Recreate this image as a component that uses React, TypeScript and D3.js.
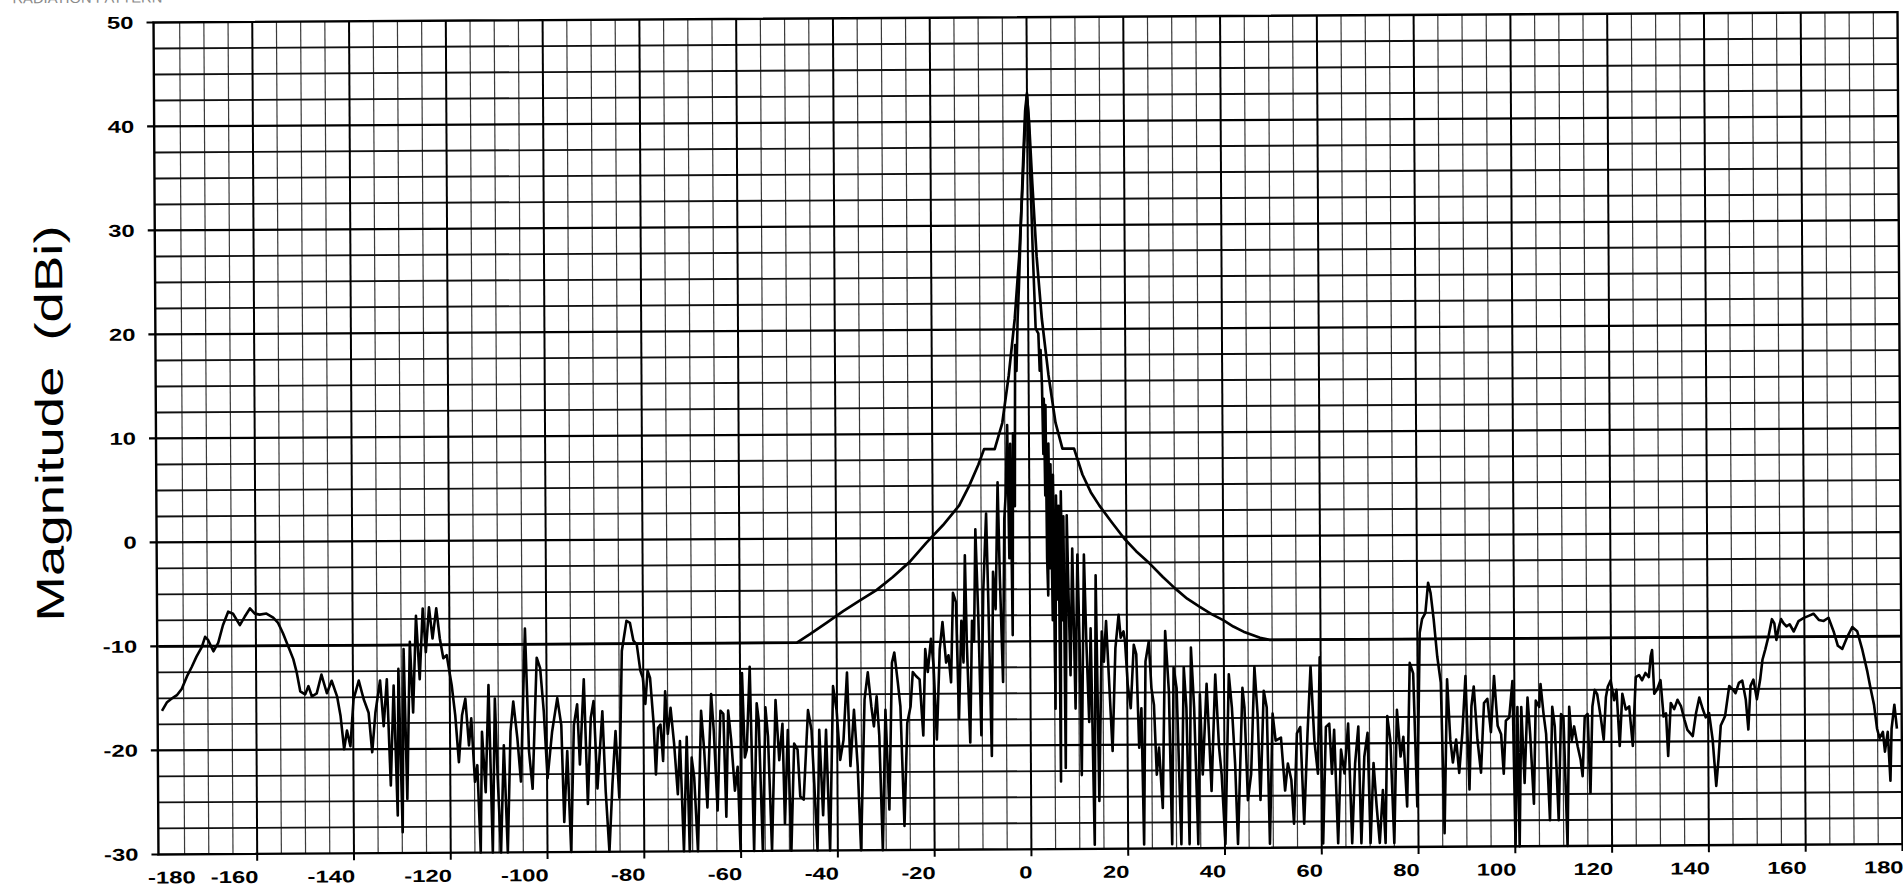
import React from 'react';
import * as d3 from 'd3';

// ---- tick labels ----
const xTickLabels: number[] = [-180, -160, -140, -120, -100, -80, -60, -40, -20, 0, 20, 40, 60, 80, 100, 120, 140, 160, 180];
const yTickLabels: number[] = [50, 40, 30, 20, 10, 0, -10, -20, -30];

// ---- measured pattern [angle deg, magnitude dBi] ----
const patternFarLeft: [number, number][] = [
  [-179.5,-16.2],[-178.5,-15.4],[-177.4,-15.0],[-176.4,-14.7],[-175.4,-14.1],[-174.3,-12.9],[-173.3,-12.0],[-172.3,-11.0],[-171.2,-10.1],[-170.5,-9.1],[-169.9,-9.4],[-168.8,-10.5],[-167.8,-9.7],[-166.8,-8.0],[-165.7,-6.7],[-164.7,-6.9],[-163.3,-8.0],[-162.3,-7.2],[-161.2,-6.4],[-160.2,-6.9],[-159.2,-7.0],[-157.8,-6.9],[-156.4,-7.3],[-155.4,-7.8],[-154.4,-8.8],[-153.3,-10.1],[-152.3,-11.3],[-151.6,-12.6],[-150.9,-14.4],[-149.9,-14.7],[-149.2,-13.9],[-148.5,-14.9],[-147.5,-14.6],[-146.5,-12.8],[-145.4,-14.6],[-144.4,-13.4],[-143.3,-14.9],[-142.6,-16.8],[-141.9,-20.0],[-141.3,-18.2],[-140.6,-19.7],[-139.9,-15.2],[-138.8,-13.4],[-137.8,-15.2],[-136.8,-16.5],[-136.1,-20.3],[-135.4,-16.5],[-134.4,-13.4],[-133.7,-17.8],[-133.0,-13.3],[-132.3,-23.5],[-131.6,-13.9],[-130.9,-26.4],[-130.6,-12.3],[-129.9,-28.0],[-129.5,-10.4],[-128.9,-24.8],[-128.2,-9.7],[-127.6,-16.5],[-126.9,-7.2],[-126.2,-13.3],[-125.5,-6.5],[-124.9,-10.7],[-124.2,-6.4],[-123.5,-9.4],[-122.7,-6.5],[-122.0,-9.4],[-121.3,-11.3],[-120.6,-11.0],[-119.6,-13.9],[-118.9,-16.8],[-118.2,-21.3],[-117.5,-16.8],[-116.8,-15.2],[-116.1,-19.7],[-115.6,-17.1],[-114.9,-23.2],[-114.4,-21.6],[-113.8,-30],[-113.4,-18.4],[-112.7,-24.2],[-112.0,-13.9],[-111.3,-30],[-110.7,-15.2],[-110.2,-22.9],[-109.6,-30],[-108.9,-19.7],[-108.2,-30],[-107.5,-18.4],[-106.9,-15.5],[-106.1,-19.0],[-105.4,-23.2],[-104.4,-8.5],[-103.7,-20.3],[-103.0,-23.9],[-102.0,-11.3],[-101.3,-12.3],[-100.6,-16.5],[-99.9,-22.9],[-98.9,-18.4],[-97.8,-15.2],[-97.0,-17.8],[-96.5,-27.1],[-95.8,-20.3],[-95.1,-30],[-94.4,-17.8],[-93.7,-15.8],[-93.2,-21.6],[-92.3,-13.4],[-91.6,-25.4],[-90.9,-17.1],[-90.3,-15.5],[-89.6,-23.9],[-88.5,-16.5],[-87.9,-24.2],[-87.2,-30],[-86.5,-23.5],[-85.8,-18.4],[-85.1,-24.8],[-84.4,-10.7],[-83.4,-7.8],[-82.7,-8.0],[-82.0,-9.7],[-81.3,-10.1],[-80.6,-12.6]
];

const patternNearLeft: [number, number][] = [
  [-80.1,-13.3],[-79.6,-15.8],[-79.1,-12.6],[-78.6,-13.3],[-77.9,-17.8],[-77.5,-22.6],[-77.0,-18.1],[-76.5,-17.8],[-76.0,-21.3],[-75.5,-14.6],[-75.0,-18.7],[-74.4,-16.2],[-73.7,-19.7],[-73.0,-24.5],[-72.5,-19.4],[-71.8,-30],[-71.1,-19.0],[-70.6,-30],[-70.1,-21.0],[-69.6,-22.9],[-68.9,-30],[-68.1,-16.5],[-67.5,-20.3],[-66.9,-25.8],[-66.0,-14.9],[-65.5,-18.4],[-64.8,-26.1],[-64.1,-16.5],[-63.5,-16.8],[-63.0,-26.7],[-62.5,-16.5],[-61.9,-19.4],[-61.2,-24.2],[-60.6,-21.9],[-60.1,-30],[-59.6,-12.9],[-59.1,-21.0],[-58.7,-20.3],[-58.0,-12.3],[-57.3,-30],[-56.6,-15.8],[-56.2,-17.4],[-55.5,-30],[-54.8,-16.2],[-54.3,-19.0],[-53.6,-30],[-52.7,-15.5],[-52.0,-21.3],[-51.3,-17.8],[-50.9,-27.4],[-50.2,-18.4],[-49.6,-30],[-48.9,-19.7],[-48.2,-20.3],[-47.7,-24.8],[-47.0,-25.1],[-46.0,-16.5],[-45.3,-18.4],[-44.8,-23.5],[-44.2,-30],[-43.7,-18.4],[-43.0,-26.6],[-42.3,-18.4],[-41.6,-30],[-40.8,-14.2],[-40.1,-16.5],[-39.4,-21.3],[-38.7,-19.4],[-37.9,-12.9],[-37.3,-21.9],[-36.5,-16.5],[-35.8,-21.9],[-35.2,-30],[-34.3,-15.5],[-33.6,-12.9],[-32.9,-16.2],[-32.4,-18.1],[-31.8,-15.2],[-31.3,-19.0],[-30.7,-30],[-30.0,-16.5],[-29.3,-26.1],[-28.6,-12.0],[-28.1,-11.0],[-27.4,-13.9],[-26.9,-16.2],[-26.2,-27.7],[-25.5,-17.8],[-24.8,-16.2],[-24.3,-12.9],[-23.6,-13.3],[-22.9,-13.6],[-22.2,-19.0],[-21.7,-10.7],[-21.2,-12.9],[-20.5,-9.7],[-20.0,-12.3],[-19.4,-19.4],[-18.7,-10.7],[-18.1,-8.1],[-17.4,-12.0],[-16.9,-11.3],[-16.4,-13.9],[-15.9,-5.3],[-15.3,-6.2],[-14.8,-17.4]
];

const patternMain: [number, number][] = [
  [-14.2,-8],[-13.8,-12],[-13.4,-1.7],[-13.1,-10.1],[-12.5,-19.7],[-12.0,-8],[-11.6,-10],[-11.2,0.8],[-10.7,-7.5],[-10.2,-19.0],[-9.65,-5.3],[-8.96,2.3],[-8.6,-6.2],[-8.06,-21],[-7.6,-3.3],[-7.1,-6.9],[-6.55,5.3],[-6.2,-3.7],[-5.65,-13.9],[-5.2,1.8],[-4.9,4],[-4.5,10.8],[-4.2,-2],[-3.9,9],[-3.6,-9.4],[-3.3,10],[-3.0,3],[-2.76,18.5],[-2.5,16],[-2.2,21],[-1.9,24],[-1.4,30.3],[-0.83,36.7],[-0.4,41],[0,42.7],[0.34,40],[0.69,33],[1.03,27.1],[1.51,20.1],[1.8,19.8],[2.06,19.6],[2.3,16],[2.5,18],[2.75,14.6],[2.95,8],[3.1,13.3],[3.3,4],[3.44,12.7],[3.6,-2],[3.79,-5.6],[4.0,9],[4.2,-3],[4.4,7],[4.7,-8],[4.9,6],[5.16,-16.5],[5.5,4],[5.8,-6],[6.0,3],[6.2,-23.5],[6.5,4.4],[6.8,-8],[7.0,2],[7.2,-22.2],[7.7,2.1],[8.0,-6],[8.3,-13.3],[8.8,-1.1],[9.3,-16.5],[9.85,-1.7],[10.2,-10],[10.5,-22.9],[11.2,-1.7],[11.6,-10],[12.1,-17.8],[12.5,-8.8],[13.1,-29.6],[13.6,-3.7],[14.1,-25.4]
];

const patternNearRight: [number, number][] = [
  [14.8,-9.1],[15.2,-12],[15.7,-8.1],[16.2,-13.3],[16.9,-20.6],[17.6,-10.7],[18.3,-7.5],[18.7,-9.7],[19.3,-9.1],[19.6,-10.1],[20.1,-14.2],[20.7,-16.5],[21.4,-10.4],[21.9,-11.3],[22.4,-20.3],[22.9,-16.5],[23.3,-29.6],[23.8,-12.0],[24.5,-10.1],[25.0,-14.6],[25.5,-16.2],[26.0,-22.9],[26.5,-20.3],[27.2,-26.1],[27.9,-9.1],[28.6,-14.9],[29.1,-29.6],[29.6,-12.6],[30.2,-14.6],[31.0,-29.6],[31.7,-12.6],[32.2,-16.5],[32.7,-29.6],[33.2,-10.7],[33.8,-16.5],[34.5,-29.6],[35.0,-15.2],[35.5,-22.9],[36.4,-14.2],[36.9,-19.7],[37.3,-24.5],[38.2,-13.3],[38.9,-20.3],[39.4,-22.9],[40.1,-29.6],[41.0,-13.3],[41.6,-16.5],[42.2,-21.9],[42.7,-29.6],[43.8,-14.6],[44.2,-16.5],[44.8,-25.4],[45.5,-22.9],[46.3,-12.6],[46.9,-17.1],[47.4,-25.4],[48.2,-14.9],[48.8,-16.5],[49.3,-29.6],[50.0,-17.1],[50.6,-19.7],[51.7,-19.4],[52.5,-24.5],[53.1,-21.9],[53.8,-23.5],[54.3,-27.7],[55.0,-19.0],[55.7,-18.4],[56.4,-27.7],[57.2,-19.0],[57.9,-12.6],[58.6,-19.7],[59.3,-22.9],[59.8,-11.7],[60.3,-29.6],[61.0,-18.4],[61.7,-18.1],[62.2,-22.9],[62.7,-18.7],[63.4,-29.6],[64.1,-20.6],[64.8,-22.9],[65.6,-18.1],[66.3,-29.6],[67.0,-21.9],[67.7,-18.4],[68.2,-29.6],[68.9,-21.3],[69.6,-19.0],[70.1,-29.6],[70.8,-21.9],[71.4,-26.1],[72.0,-29.6],[72.7,-24.5],[73.2,-29.6],[73.7,-17.4],[74.3,-19.7],[75.0,-29.6],[75.7,-16.8],[76.4,-21.3],[77.0,-19.4],[77.7,-26.1],[78.4,-12.3],[79.1,-13.3],[79.8,-26.1],[80.5,-9.4],[81.0,-8.1],[81.7,-7.5],[82.3,-4.6],[82.8,-5.6],[83.4,-8.1],[84.1,-11.7],[84.8,-14.2],[85.4,-28.7],[86.1,-13.9],[86.7,-19.7],[87.2,-21.9],[87.9,-19.7],[88.5,-22.9],[89.2,-19.0],[89.9,-13.6],[90.6,-24.5],[91.1,-16.5],[91.6,-14.6],[92.3,-19.7],[93.0,-22.9],[93.7,-16.2],[94.4,-15.8],[95.1,-19.0],[95.8,-13.6],[96.5,-18.4]
];

const patternFarRight: [number, number][] = [
  [97.2,-19.2],[97.7,-23.0],[98.2,-17.9],[98.9,-17.6],[99.6,-14.1],[100.05,-30],[100.6,-16.6],[100.9,-30],[101.4,-16.6],[102.0,-23.9],[102.7,-15.7],[103.2,-19.2],[103.9,-25.9],[104.4,-16.0],[105.1,-16.6],[105.4,-14.4],[106.0,-17.3],[106.5,-19.2],[107.2,-27.5],[107.8,-16.6],[108.3,-18.5],[109.0,-27.5],[109.6,-17.3],[110.1,-17.6],[110.8,-30],[111.3,-16.6],[111.8,-19.8],[112.3,-18.5],[113.0,-20.4],[113.6,-21.7],[114.0,-23.3],[114.5,-17.6],[115.1,-17.3],[115.6,-24.9],[116.1,-16.6],[116.6,-15.0],[117.1,-15.4],[117.8,-17.6],[118.4,-19.8],[118.9,-15.7],[119.3,-14.7],[119.9,-14.1],[120.6,-16.0],[121.1,-15.0],[121.7,-20.4],[122.3,-15.4],[123.0,-16.9],[123.7,-16.6],[124.4,-20.4],[125.1,-13.8],[125.8,-13.6],[126.4,-14.1],[127.1,-13.4],[127.8,-13.8],[128.2,-11.8],[128.5,-11.2],[128.9,-15.4],[129.5,-15.0],[130.2,-14.1],[130.8,-17.6],[131.3,-17.3],[131.7,-21.4],[132.3,-16.3],[133.0,-16.9],[133.7,-16.0],[134.4,-16.6],[135.1,-17.9],[135.7,-18.9],[136.8,-19.5],[137.5,-17.3],[138.2,-15.8],[138.9,-16.9],[139.5,-17.7],[140.2,-17.3],[140.9,-19.8],[141.6,-24.3],[142.1,-21.7],[142.6,-18.5],[143.5,-17.6],[144.4,-14.7],[145.05,-15.0],[145.7,-15.4],[146.4,-14.4],[147.1,-14.2],[147.8,-16.0],[148.3,-18.9],[148.8,-14.7],[149.4,-14.1],[150.1,-16.0],[150.8,-14.1],[151.3,-12.2],[151.9,-11.2],[152.6,-9.9],[153.3,-8.3],[153.8,-8.7],[154.2,-10.3],[154.7,-9.1],[155.2,-8.3],[155.7,-8.7],[156.3,-9.0],[156.96,-8.8],[157.8,-9.5],[158.8,-8.5],[159.9,-8.2],[160.9,-8.0],[161.9,-7.8],[163.0,-8.4],[164.0,-8.5],[165.0,-8.2],[166.1,-9.6],[166.9,-10.9],[167.8,-11.2],[168.8,-10.1],[169.9,-9.1],[170.9,-9.5],[171.9,-11.2],[172.96,-13.4],[173.6,-15.0],[174.3,-16.6],[174.9,-18.9],[175.4,-19.8],[176.1,-19.2],[176.5,-21.1],[177.1,-19.2],[177.6,-23.9],[177.9,-18.9],[178.5,-16.6],[179.0,-18.9]
];

// ---- envelope (mask) [angle deg, dBi] ----
const maskEnvelope: [number, number][] = [
  [-180,-10],[-48.2,-10],[-45.5,-9.2],[-42,-8.1],[-38.6,-7.0],[-35.2,-6.0],[-31.7,-5.0],[-28.3,-3.75],[-24.8,-2.3],[-21.4,-0.5],[-17.9,1.2],[-14.5,3.1],[-12.4,5.0],[-10.5,7.0],[-9.3,8.5],[-7.1,8.5],[-5.5,11],[-4.1,15.6],[-2.8,21],[-1.8,27],[-1.0,34],[-0.4,40],[0,42.5],[0.4,40],[1.0,34],[1.8,27],[2.8,21],[4.1,15.6],[5.5,11],[6.9,8.5],[9.3,8.5],[11,6],[12.7,4.3],[14.47,3.0],[17,1.4],[19.6,-0.2],[22,-1.4],[24.8,-2.6],[27.5,-3.9],[30,-5.0],[32.5,-6.0],[35.1,-6.8],[37.5,-7.5],[40,-8.1],[42,-8.7],[44.1,-9.2],[47.5,-9.8],[49.5,-10],[180,-10]
];

const FONT = "'Liberation Sans', Arial, Helvetica, sans-serif";

export default function App() {
  const W = 1903;
  const H = 887;
  const x = d3.scaleLinear().domain([-180.4, 180]).range([156, 1900]);
  const y = d3.scaleLinear().domain([-30, 50]).range([854, 22]);
  const left = x(-180.4);
  const right = x(180);
  const top = y(50);
  const bottom = y(-30);

  const line = d3
    .line<[number, number]>()
    .x((d) => x(d[0]))
    .y((d) => y(Math.max(-30, d[1])));

  const pattern = [
    ...patternFarLeft,
    ...patternNearLeft,
    ...patternMain,
    ...patternNearRight,
    ...patternFarRight,
  ];

  const vMinor = d3.range(-175, 180, 5).filter((v) => v % 20 !== 0);
  const vMajor = d3.range(-160, 180, 20);
  const hMinor = d3.range(-27.5, 50, 2.5).filter((v) => v % 10 !== 0);
  const hMajor = d3.range(-20, 50, 10);

  return (
    <div style={{ position: 'absolute', left: 0, top: 0, width: W, height: H, overflow: 'hidden', background: '#fff' }}>
      <svg width={W} height={H} viewBox={`0 0 ${W} ${H}`} style={{ display: 'block' }}>
        <rect x={0} y={0} width={W} height={H} fill="#fff" />
        <g transform="rotate(-0.34, 228, 438)">
          {/* title strip, cut off by the top edge as in the scan */}
          <text x={15} y={2} fontFamily={FONT} fontSize={14} fill="#8a8a8a" textLength={150} lengthAdjust="spacingAndGlyphs">
            RADIATION PATTERN
          </text>

          {/* grid */}
          <g>
            {vMinor.map((v) => (
              <line key={'vm' + v} x1={x(v)} x2={x(v)} y1={top} y2={bottom} stroke="#3a3a3a" strokeWidth={1.2} />
            ))}
            {hMinor.map((v) => (
              <line key={'hm' + v} x1={left} x2={right} y1={y(v)} y2={y(v)} stroke="#111" strokeWidth={1.9} />
            ))}
            {hMajor.map((v) => (
              <line key={'hM' + v} x1={left - 7} x2={right} y1={y(v)} y2={y(v)} stroke="#000" strokeWidth={2.2} />
            ))}
            {vMajor.map((v) => (
              <line key={'vM' + v} x1={x(v)} x2={x(v)} y1={top} y2={bottom + 7} stroke="#000" strokeWidth={2} />
            ))}
            <line x1={left - 7} x2={left} y1={top} y2={top} stroke="#000" strokeWidth={2} />
            <line x1={left - 7} x2={left} y1={bottom} y2={bottom} stroke="#000" strokeWidth={2} />
            <line x1={right} x2={right} y1={bottom} y2={bottom + 7} stroke="#000" strokeWidth={2} />
            <rect x={left} y={top} width={right - left} height={bottom - top} fill="none" stroke="#000" strokeWidth={2.4} />
          </g>

          {/* mask envelope */}
          <path d={line(maskEnvelope) || ''} fill="none" stroke="#000" strokeWidth={2.7} strokeLinejoin="round" />

          {/* measured pattern */}
          <path d={line(pattern) || ''} fill="none" stroke="#000" strokeWidth={2.6} strokeLinejoin="round" />

          {/* y tick labels */}
          {yTickLabels.map((v) => (
            <text
              key={'yl' + v}
              transform={`translate(136, ${y(v) + 6}) scale(1.4,1)`}
              textAnchor="end"
              fontFamily={FONT}
              fontWeight="bold"
              fontSize={17}
              fill="#000"
            >
              {v}
            </text>
          ))}

          {/* x tick labels (right-aligned to the tick, as in the original) */}
          {xTickLabels.map((v) => (
            <text
              key={'xl' + v}
              transform={`translate(${Math.max(x(v) + 1, 193)}, 883) scale(1.4,1)`}
              textAnchor="end"
              fontFamily={FONT}
              fontWeight="bold"
              fontSize={17}
              fill="#000"
            >
              {v}
            </text>
          ))}

          {/* y axis title */}
          <text transform="translate(63, 493) rotate(-90) scale(1.4,1)" textAnchor="middle" fontFamily={FONT} fontSize={39} fill="#000">
            Magnitude
          </text>
          <text transform="translate(63, 282) rotate(-90) scale(1.4,1)" textAnchor="middle" fontFamily={FONT} fontSize={39} fill="#000">
            (dBi)
          </text>
        </g>
      </svg>
    </div>
  );
}
